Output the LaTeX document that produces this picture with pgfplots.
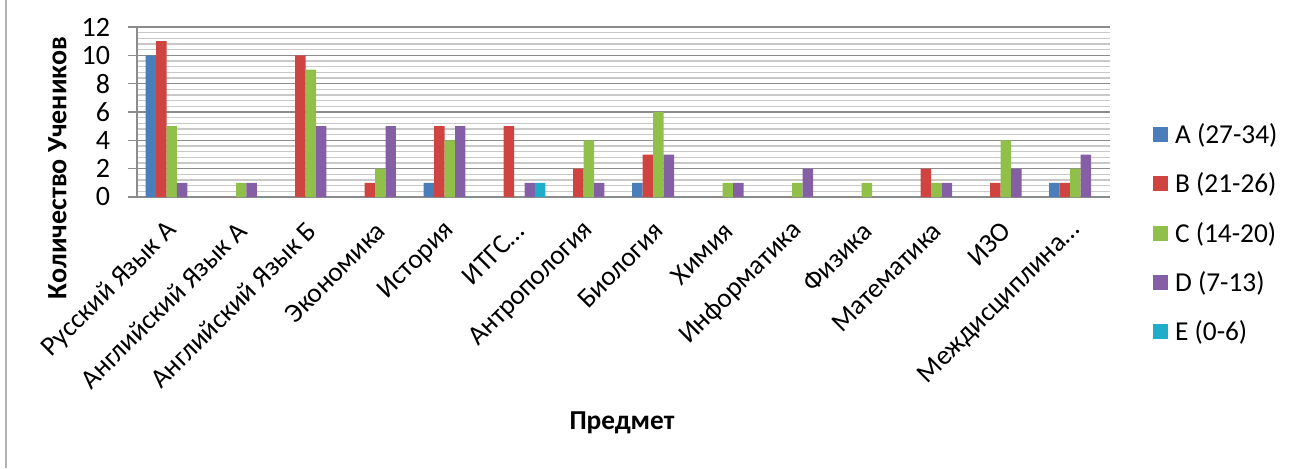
\documentclass[border=0pt]{standalone}
\usepackage{fontspec}
\setmainfont{Carlito}
\usepackage{pgfplots}
\pgfplotsset{compat=1.18}

\definecolor{cA}{HTML}{4A7EBB}
\definecolor{cB}{HTML}{CF4340}
\definecolor{cC}{HTML}{90C04A}
\definecolor{cD}{HTML}{845FA6}
\definecolor{cE}{HTML}{1FADCA}
\definecolor{gridmaj}{HTML}{8C8C8C}
\definecolor{gridmin}{HTML}{C8C8C8}

\begin{document}
\begin{tikzpicture}
  % 1px = 0.75pt, 1301x468 px
  \path[use as bounding box] (0,0) rectangle (975.75pt,-351pt);
  \draw[gray!60, line width=1.2pt] (4.5pt,0) -- (4.5pt,-351pt);

  \begin{axis}[
    at={(102.75pt,-147.75pt)}, anchor=south west,
    width=729.75pt, height=127.5pt, scale only axis,
    xmin=-0.5, xmax=13.5, ymin=0, ymax=12,
    ytick={0,2,...,12}, minor y tick num=4,
    ymajorgrids, yminorgrids,
    major grid style={color=gridmaj, line width=0.8pt},
    minor grid style={color=gridmin, line width=0.8pt},
    axis x line*=bottom, axis y line*=left,
    axis line style={-, color=gridmaj, line width=0.8pt},
    tick align=outside, major tick length=6.75pt, minor tick length=0pt,
    ytick style={color=gridmaj, line width=0.8pt},
    xtick style={draw=none},
    xtick={0,1,2,3,4,5,6,7,8,9,10,11,12,13},
    xticklabels={Русский Язык А, Английский Язык А, Английский Язык Б, Экономика, История, {ИТГС…}, Антропология, Биология, Химия, Информатика, Физика, Математика, ИЗО, {Междисциплина…}},
    x tick label style={xshift=3pt, yshift=-13pt, rotate=45, anchor=east, font=\fontsize{20.5}{20.5}\selectfont},
    y tick label style={xshift=-10pt, font=\fontsize{21}{21}\selectfont},
    /pgf/number format/assume math mode=true,
    ybar, bar width=0.151,
    legend style={at={(1.044,0.45)}, anchor=north west, draw=none, fill=none,
      inner sep=0pt, row sep=16.5pt, font=\fontsize{20.5}{20.5}\selectfont,
      /tikz/every odd column/.append style={column sep=3pt}},
    legend cell align=left,
    legend image code/.code={\fill[#1] (0pt,-5.6pt) rectangle (11.5pt,5.6pt);},
    ]
    \addplot[fill=cA, draw=none, bar shift=-0.302] coordinates {
      (0,10) (1,0) (2,0) (3,0) (4,1) (5,0) (6,0) (7,1) (8,0) (9,0) (10,0) (11,0) (12,0) (13,1)};
    \addlegendentry{A (27-34)}
    \addplot[fill=cB, draw=none, bar shift=-0.151] coordinates {
      (0,11) (1,0) (2,10) (3,1) (4,5) (5,5) (6,2) (7,3) (8,0) (9,0) (10,0) (11,2) (12,1) (13,1)};
    \addlegendentry{B (21-26)}
    \addplot[fill=cC, draw=none, bar shift=0] coordinates {
      (0,5) (1,1) (2,9) (3,2) (4,4) (5,0) (6,4) (7,6) (8,1) (9,1) (10,1) (11,1) (12,4) (13,2)};
    \addlegendentry{C (14-20)}
    \addplot[fill=cD, draw=none, bar shift=0.151] coordinates {
      (0,1) (1,1) (2,5) (3,5) (4,5) (5,1) (6,1) (7,3) (8,1) (9,2) (10,0) (11,1) (12,2) (13,3)};
    \addlegendentry{D (7-13)}
    \addplot[fill=cE, draw=none, bar shift=0.302] coordinates {
      (0,0) (1,0) (2,0) (3,0) (4,0) (5,1) (6,0) (7,0) (8,0) (9,0) (10,0) (11,0) (12,0) (13,0)};
    \addlegendentry{E (0-6)}
  \end{axis}

  \node[rotate=90, font=\bfseries\fontsize{21}{21}\selectfont] at (43pt,-126pt) {Количество Учеников};
  \node[font=\bfseries\fontsize{20.5}{20.5}\selectfont] at (466.5pt,-317.25pt) {Предмет};
\end{tikzpicture}
\end{document}
